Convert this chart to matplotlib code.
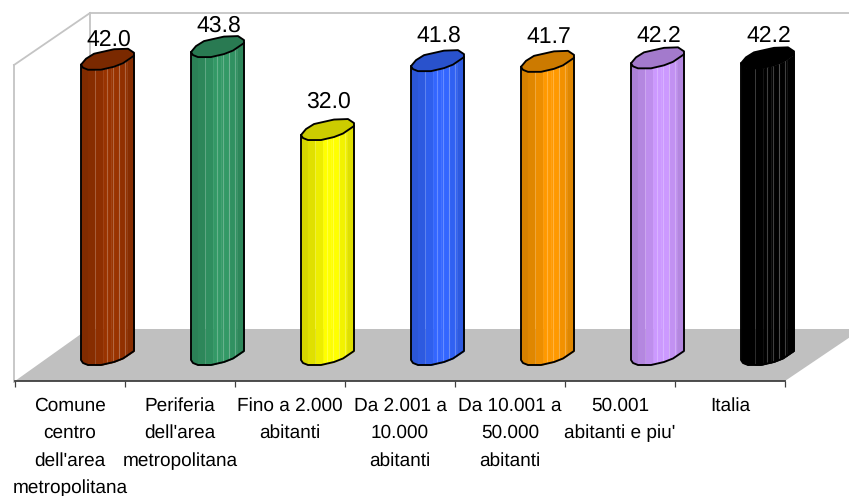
import numpy as np
from matplotlib import pyplot as plt
from matplotlib.colors import to_rgb

categories = ['Comune\ncentro\ndell\'area\nmetropolitana', 'Periferia\ndell\'area\nmetropolitana',
              'Fino a 2.000\nabitanti', 'Da 2.001 a\n10.000\nabitanti', 'Da 10.001 a\n50.000\nabitanti',
              '50.001\nabitanti e piu\'', 'Italia']
values = [42.0, 43.8, 32.0, 41.8, 41.7, 42.2, 42.2]
colors = ['#993300', '#339966', '#FFFF00', '#3366FF', '#FF9900', '#CC99FF', '#000000']
# px between the top of a column and the middle of its label
label_gaps = [25, 26, 33, 30, 30, 27, 27]

plt.rcParams['font.family'] = ['Liberation Sans', 'DejaVu Sans']
plt.rcParams['text.hinting'] = 'no_hinting'
plt.rcParams['text.hinting_factor'] = 1

W, H = 849, 496
fig = plt.figure(figsize=(W / 100, H / 100), dpi=100)
ax = fig.add_axes([15 / W, (H - 381) / H, 770 / W, 381 / H])

# one category = 110 px, one unit of value = 7.03 px
sx = 110.0
sy = 7.03
ax.set_xlim(-0.5, 6.5)
ax.set_ylim(-21 / sy, 360 / sy)
ax.patch.set_visible(False)


# position of a picture pixel in data units, for the walls and the floor
def px(x, y):
    return (x - 70) / sx, (360 - y) / sy


# walls
wall = '#c4c4c4'
for a, b in [((14, 382), (14, 65)), ((14, 65), (90, 13)), ((90, 13), (90, 329)), ((90, 13), (860, 13))]:
    p, q = px(*a), px(*b)
    ax.plot([p[0], q[0]], [p[1], q[1]], color=wall, lw=1.3, zorder=1, clip_on=False)

# floor
floor = [px(15, 381), px(88, 329), px(862, 329), px(785, 381)]
ax.fill([p[0] for p in floor], [p[1] for p in floor], color='#c0c0c0', lw=0, zorder=2, clip_on=False)

# outline of the column section, px from the front left corner
front_dx = np.array([0, 2, 7, 20, 33, 42, 53])
front_dy = np.array([0, -3, -5, -5, -2, 1.5, 9])
back_dx = np.array([53, 53, 47, 33, 13, 5, 0])
back_dy = np.array([9, 12, 16, 15.5, 11, 6, 0])
# shading across the column
edges = np.array([0, 7, 14, 22, 30, 38, 46, 53])
shade = [0.84, 0.88, 0.93, 1.0, 1.0, 0.95, 0.88]
hilite = [26, 32, 38, 44]

for i, (v, c) in enumerate(zip(values, colors)):
    left = i + 11 / sx
    rgb = np.array(to_rgb(c))
    for j, s in enumerate(shade):
        xs = np.linspace(edges[j], edges[j + 1], 8)
        fy = np.interp(xs, front_dx, front_dy) / sy
        ax.fill_between(left + xs / sx, fy, v + fy, color=rgb * s, lw=0.3, zorder=3, clip_on=False)
    for h in hilite:
        fy = np.interp(h, front_dx, front_dy) / sy
        ax.plot([left + h / sx] * 2, [fy, v + fy], color='white', alpha=0.25, lw=0.8, zorder=4, clip_on=False)
    # cap
    cx = left + np.r_[front_dx, back_dx] / sx
    cy = v + np.r_[front_dy, back_dy] / sy
    ax.fill(cx, cy, facecolor=rgb * 0.8, edgecolor='black', lw=1.35, zorder=5, joinstyle='round', clip_on=False)
    # outline of the body
    ox = left + np.r_[0, front_dx, 53, 53] / sx
    oy = np.r_[v, front_dy / sy, 9 / sy, v + 9 / sy]
    ax.plot(ox, oy, color='black', lw=1.35, zorder=5, clip_on=False)
    ax.annotate(f'{v:.1f}', (left + 27.5 / sx, v), xytext=(0, label_gaps[i] * 0.72), textcoords='offset points',
                ha='center', va='center', fontsize=16.3, color='black', zorder=6, annotation_clip=False)

for s in ['left', 'right', 'top']:
    ax.spines[s].set_visible(False)
ax.spines['bottom'].set_color('#404040')
ax.spines['bottom'].set_linewidth(1.3)
ax.set_yticks([])
ax.set_xticks(range(len(categories)))
ax.set_xticklabels(categories, fontsize=13.7, linespacing=1.71)
ax.tick_params(axis='x', which='major', length=0, pad=11.5)
ax.set_xticks(np.arange(-0.5, 7), minor=True)
ax.tick_params(axis='x', which='minor', length=4.5, width=0.9, color='#404040')

fig.savefig('out.png', dpi=100)
